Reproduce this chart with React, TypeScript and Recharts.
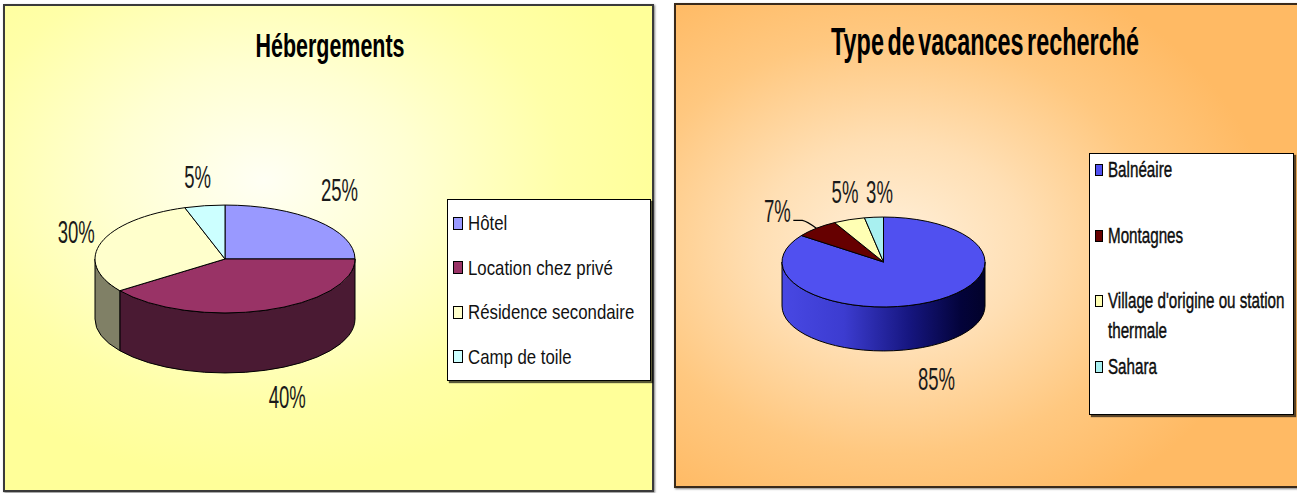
import React from 'react';
import { PieChart, Pie, Cell, Legend } from 'recharts';

// Hébergements
const hebergementLabels = ['Hôtel', 'Location chez privé', 'Résidence secondaire', 'Camp de toile'];
const hebergementValues = [25, 40, 30, 5];

// Type de vacances recherché
const vacancesLabels = ['Balnéaire', 'Montagnes', "Village d'origine ou station thermale", 'Sahara'];
const vacancesValues = [85, 7, 5, 3];

const hebergementColors = ['#9999FF', '#993366', '#FFFFCC', '#CCFFFF'];
const hebergementSideColors = ['#5C5C99', '#4A1A33', '#808066', '#7A9999'];
const vacancesColors = ['#5050F0', '#660000', '#FFFFB4', '#A8F0F0'];
const vacancesSideColors = ['url(#balneaireSide)', '#330000', '#99996C', '#649090'];

const hebergementData = hebergementLabels.map((name, i) => ({ name, value: hebergementValues[i] }));
const vacancesData = vacancesLabels.map((name, i) => ({ name, value: vacancesValues[i] }));

const FONT = '"Liberation Sans", Arial, Helvetica, sans-serif';
const RAD = Math.PI / 180;

type PieStyle = {
  tilt: number;
  depth: number;
  sideColors: string[];
  kx: number;
  ky: number;
  labelShift: number[][];
  leader: boolean[];
};

const hebergementStyle: PieStyle = {
  tilt: 0.415,
  depth: 60,
  sideColors: hebergementSideColors,
  kx: 1.3,
  ky: 1.55,
  labelShift: [[-5, -10], [10, 1], [12, -1], [-1, 1]],
  leader: [false, false, false, false],
};

const vacancesStyle: PieStyle = {
  tilt: 0.443,
  depth: 44,
  sideColors: vacancesSideColors,
  kx: 1.15,
  ky: 1.8,
  labelShift: [[0, 6], [-29, 10], [1, 6], [7, 11]],
  leader: [false, true, false, false],
};

function ellipsePoint(cx: number, cy: number, rx: number, ry: number, a: number) {
  return [cx + rx * Math.cos(a * RAD), cy - ry * Math.sin(a * RAD)];
}

// Draws one slice of a tilted pie: the elliptical top face plus the visible front wall.
function makeSlice3D(style: PieStyle) {
  return (props: any) => {
    const { cx, cy, outerRadius, startAngle, endAngle, fill, index } = props;
    const rx = outerRadius;
    const ry = outerRadius * style.tilt;
    const d = style.depth;
    const lo = Math.min(startAngle, endAngle);
    const hi = Math.max(startAngle, endAngle);
    const walls: number[][] = [];
    for (let k = -2; k <= 2; k++) {
      const s = Math.max(lo, 180 + 360 * k);
      const e = Math.min(hi, 360 + 360 * k);
      if (e - s > 0.01) walls.push([s, e]);
    }
    const [x0, y0] = ellipsePoint(cx, cy, rx, ry, startAngle);
    const [x1, y1] = ellipsePoint(cx, cy, rx, ry, endAngle);
    const large = Math.abs(endAngle - startAngle) > 180 ? 1 : 0;
    const sweep = endAngle < startAngle ? 1 : 0;
    const top = `M${cx},${cy} L${x0},${y0} A${rx},${ry} 0 ${large} ${sweep} ${x1},${y1} Z`;
    const sideFill = style.sideColors[index] ?? fill;
    return (
      <g>
        <defs>
          <linearGradient id="balneaireSide" gradientUnits="userSpaceOnUse" x1={cx - rx} y1={0} x2={cx + rx} y2={0}>
            <stop offset="0" stopColor="#4B4BE8" />
            <stop offset="0.3" stopColor="#3C3CD0" />
            <stop offset="0.55" stopColor="#161680" />
            <stop offset="0.75" stopColor="#03033A" />
            <stop offset="1" stopColor="#000010" />
          </linearGradient>
        </defs>
        {walls.map(([s, e], i) => {
          const [ax, ay] = ellipsePoint(cx, cy, rx, ry, s);
          const [bx, by] = ellipsePoint(cx, cy, rx, ry, e);
          return (
            <path
              key={i}
              d={`M${ax},${ay} A${rx},${ry} 0 0 0 ${bx},${by} L${bx},${by + d} A${rx},${ry} 0 0 1 ${ax},${ay + d} Z`}
              fill={sideFill}
              stroke="#000"
              strokeWidth={1}
              strokeLinejoin="round"
            />
          );
        })}
        <path d={top} fill={fill} stroke="#000" strokeWidth={1} strokeLinejoin="round" />
      </g>
    );
  };
}

function makeLabel(style: PieStyle) {
  return (props: any) => {
    const { cx, cy, midAngle, outerRadius, value, index } = props;
    const rx = outerRadius;
    const ry = outerRadius * style.tilt;
    const s = Math.sin(midAngle * RAD);
    const c = Math.cos(midAngle * RAD);
    const shift = style.labelShift[index] ?? [0, 0];
    const x = cx + rx * style.kx * c + shift[0];
    const y = cy - ry * style.ky * s + (s < 0 ? -s * style.depth : 0) + shift[1];
    let leader = null;
    if (style.leader[index]) {
      const ex = cx + rx * c;
      const ey = cy - ry * s;
      const sx = x + 16;
      const sy = y + 9;
      leader = (
        <path d={`M${sx},${sy} L${sx + 9},${sy} Q${sx + 14},${sy + 1} ${ex},${ey}`} fill="none" stroke="#000" strokeWidth={1.2} />
      );
    }
    return (
      <g>
        {leader}
        <text
          transform={`translate(${x},${y}) scale(0.58,1)`}
          textAnchor="middle"
          dominantBaseline="central"
          fontFamily={FONT}
          fontSize={32}
          fill="#1a1a1a"
        >
          {value}%
        </text>
      </g>
    );
  };
}

type LegendOpts = {
  rowHeight: number;
  padTop: number;
  lineHeight: number;
  fontSize: number;
  scale: number;
  textWidth: number;
  square: [number, number];
  squareLeft: number;
  textLeft: number;
  stroke: number;
  names: string[];
  colors: string[];
};

function makeLegend(opts: LegendOpts) {
  return (props: any) => {
    const given = props.payload && props.payload.length ? [...props.payload] : opts.names.map((n, i) => ({ value: n, color: opts.colors[i] }));
    // keep the entries in series order
    const payload = given.sort((a: any, b: any) => opts.names.indexOf(a.value) - opts.names.indexOf(b.value));
    return (
      <div
        style={{
          width: '100%',
          height: '100%',
          boxSizing: 'border-box',
          background: '#fff',
          border: '1px solid #000',
          boxShadow: '2px 2px 1px rgba(0,0,0,0.65)',
          paddingTop: opts.padTop,
          fontFamily: FONT,
          color: '#111',
        }}
      >
        {payload.map((item: any, i: number) => (
          <div key={i} style={{ position: 'relative', height: opts.rowHeight }}>
            <div
              style={{
                position: 'absolute',
                left: opts.squareLeft,
                top: (opts.lineHeight - opts.square[1]) / 2,
                width: opts.square[0],
                height: opts.square[1],
                boxSizing: 'border-box',
                border: '1.5px solid #000',
                background: item.color,
              }}
            />
            <div
              style={{
                position: 'absolute',
                left: opts.textLeft,
                top: 0,
                width: opts.textWidth,
                fontSize: opts.fontSize,
                lineHeight: `${opts.lineHeight}px`,
                transform: `scaleX(${opts.scale})`,
                transformOrigin: '0 0',
                whiteSpace: 'normal',
                WebkitTextStroke: opts.stroke ? `${opts.stroke}px #000` : undefined,
              }}
            >
              {item.value}
            </div>
          </div>
        ))}
      </div>
    );
  };
}

function Title(props: { text: string; x: number; y: number; size: number; scale: number; spacing?: number }) {
  const { text, x, y, size, scale, spacing } = props;
  return (
    <div
      style={{
        position: 'absolute',
        left: x - 300,
        top: y - size / 2,
        width: 600,
        textAlign: 'center',
        fontFamily: FONT,
        fontWeight: 'bold',
        fontSize: size,
        lineHeight: `${size}px`,
        whiteSpace: 'nowrap',
        transform: `scaleX(${scale})`,
        transformOrigin: 'center',
        wordSpacing: spacing ?? 0,
        color: '#000',
        zIndex: 2,
      }}
    >
      {text}
    </div>
  );
}

export default function App() {
  return (
    <div style={{ position: 'absolute', left: 0, top: 0, width: 1297, height: 493, overflow: 'hidden', background: '#fff' }}>
      {/* Hébergements panel */}
      <div
        style={{
          position: 'absolute',
          left: 3,
          top: 4,
          width: 651,
          height: 488,
          boxSizing: 'border-box',
          border: '2px solid #3a3a3a',
          boxShadow: '1px 1px 2px rgba(0,0,0,0.5)',
          background: 'radial-gradient(ellipse 62% 62% at 40% 36%, #FFFFF4 0%, #FFFFD2 38%, #FFFFA8 75%, #FFFF99 100%)',
        }}
      >
        <Title text="Hébergements" x={325} y={39} size={33} scale={0.65} />
        <PieChart width={647} height={484} margin={{ top: 0, right: 0, bottom: 0, left: 0 }}>
          <Pie
            data={hebergementData}
            dataKey="value"
            nameKey="name"
            cx={220}
            cy={253}
            outerRadius={130}
            startAngle={90}
            endAngle={-270}
            stroke="#000"
            isAnimationActive={false}
            shape={makeSlice3D(hebergementStyle)}
            activeShape={makeSlice3D(hebergementStyle)}
            inactiveShape={makeSlice3D(hebergementStyle)}
            label={makeLabel(hebergementStyle)}
            labelLine={false}
          >
            {hebergementData.map((d, i) => (
              <Cell key={d.name} fill={hebergementColors[i]} />
            ))}
          </Pie>
          <Legend
            layout="vertical"
            align="right"
            verticalAlign="middle"
            wrapperStyle={{ position: 'absolute', left: 442, top: 193, width: 204, height: 182 }}
            content={makeLegend({
              rowHeight: 44.5,
              padTop: 1,
              lineHeight: 44.5,
              fontSize: 21,
              scale: 0.8,
              textWidth: 240,
              square: [10, 13],
              squareLeft: 5,
              textLeft: 20,
              stroke: 0,
              names: hebergementLabels,
              colors: hebergementColors,
            })}
          />
        </PieChart>
      </div>

      {/* Type de vacances recherché panel */}
      <div
        style={{
          position: 'absolute',
          left: 674,
          top: 3,
          width: 660,
          height: 485,
          boxSizing: 'border-box',
          border: '2px solid #3a2a1a',
          boxShadow: '1px 1px 2px rgba(0,0,0,0.5)',
          background: 'radial-gradient(ellipse 58% 62% at 33% 50%, #FFF0DA 0%, #FFDFB4 35%, #FFC880 70%, #FFBA64 100%)',
        }}
      >
        <Title text="Type de vacances recherché" x={309} y={36} size={39} scale={0.6} spacing={-5} />
        <PieChart width={656} height={481} margin={{ top: 0, right: 0, bottom: 0, left: 0 }}>
          <Pie
            data={vacancesData}
            dataKey="value"
            nameKey="name"
            cx={207.5}
            cy={257}
            outerRadius={101.5}
            startAngle={90}
            endAngle={-270}
            stroke="#000"
            isAnimationActive={false}
            shape={makeSlice3D(vacancesStyle)}
            activeShape={makeSlice3D(vacancesStyle)}
            inactiveShape={makeSlice3D(vacancesStyle)}
            label={makeLabel(vacancesStyle)}
            labelLine={false}
          >
            {vacancesData.map((d, i) => (
              <Cell key={d.name} fill={vacancesColors[i]} />
            ))}
          </Pie>
          <Legend
            layout="vertical"
            align="right"
            verticalAlign="middle"
            wrapperStyle={{ position: 'absolute', left: 413, top: 148, width: 205, height: 262 }}
            content={makeLegend({
              rowHeight: 65.7,
              padTop: 1,
              lineHeight: 30,
              fontSize: 22,
              scale: 0.69,
              textWidth: 264,
              square: [8, 12],
              squareLeft: 5,
              textLeft: 18,
              stroke: 0.4,
              names: vacancesLabels,
              colors: vacancesColors,
            })}
          />
        </PieChart>
      </div>
    </div>
  );
}
